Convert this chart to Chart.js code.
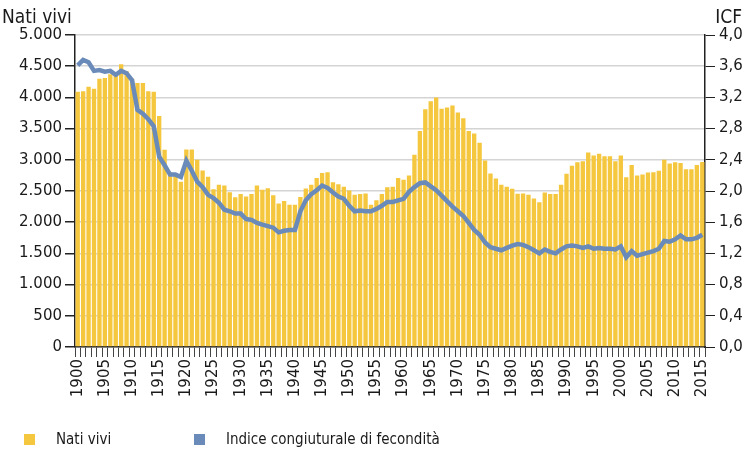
<!DOCTYPE html>
<html>
<head>
<meta charset="utf-8">
<script src="https://cdn.jsdelivr.net/npm/chart.js@4/dist/chart.umd.min.js"></script>
<style>
  body { margin: 0; background: #fff; }
  canvas { display: block; }
</style>
</head>
<body>
<canvas id="natiChart" width="754" height="452"></canvas>
<script>
// anni 1900-2015
var anni = [];
for (var a = 1900; a <= 2015; a++) anni.push(String(a));

// nati vivi
var natiVivi = [
  4090, 4100, 4170, 4140, 4300, 4310, 4370, 4350, 4530, 4420,
  4300, 4230, 4230, 4100, 4090, 3700, 3160, 2800, 2760, 2650,
  3165, 3165, 3000, 2830, 2730, 2530, 2600, 2590, 2480, 2400,
  2450, 2410, 2450, 2590, 2520, 2545, 2430, 2300, 2340, 2280,
  2280, 2405, 2540, 2600, 2710, 2790, 2800, 2640, 2610, 2570,
  2510, 2440, 2450, 2460, 2280, 2350, 2450, 2560, 2570, 2710,
  2680, 2750, 3080, 3460, 3810, 3940, 4000, 3820, 3840, 3870,
  3760, 3665, 3460, 3420, 3275, 2990, 2780, 2700, 2600, 2570,
  2535, 2455, 2460, 2440, 2380, 2320, 2475, 2450, 2450, 2600,
  2775, 2905, 2960, 2975, 3115, 3070, 3095, 3055, 3055, 2975,
  3070, 2720, 2915, 2750, 2765, 2795, 2800, 2825, 3000, 2940,
  2960, 2950, 2850, 2850, 2915, 2965
];

// indice congiunturale di fecondita (ICF)
var icf = [
  3.61, 3.68, 3.65, 3.54, 3.55, 3.53, 3.54, 3.49, 3.54, 3.51,
  3.42, 3.04, 2.99, 2.92, 2.83, 2.44, 2.33, 2.21, 2.21, 2.18,
  2.39, 2.26, 2.12, 2.05, 1.95, 1.91, 1.85, 1.76, 1.74, 1.71,
  1.71, 1.64, 1.63, 1.59, 1.57, 1.55, 1.53, 1.47, 1.49, 1.50,
  1.50, 1.74, 1.88, 1.96, 2.01, 2.07, 2.04, 1.98, 1.93, 1.90,
  1.81, 1.74, 1.75, 1.74, 1.74, 1.77, 1.81, 1.86, 1.86, 1.88,
  1.90, 1.99, 2.05, 2.10, 2.11, 2.06, 2.01, 1.94, 1.87, 1.80,
  1.74, 1.68, 1.59, 1.50, 1.44, 1.34, 1.28, 1.26, 1.24, 1.27,
  1.30, 1.32, 1.31, 1.28, 1.24, 1.20, 1.25, 1.22, 1.20, 1.25,
  1.29, 1.30, 1.29, 1.27, 1.29, 1.26, 1.27, 1.26, 1.26, 1.25,
  1.29, 1.15, 1.23, 1.17, 1.19, 1.21, 1.23, 1.26, 1.36, 1.35,
  1.38, 1.43, 1.38, 1.38, 1.40, 1.44
];

var FONT = "'DejaVu Sans', sans-serif";
var GIALLO = '#F5C73E';
var BLU = '#6A8BB9';
var TESTO = '#1a1a1a';

// titoli degli assi e legenda
var testiPlugin = {
  id: 'testi',
  afterDraw: function(chart) {
    var ctx = chart.ctx;
    ctx.save();
    ctx.fillStyle = TESTO;
    ctx.font = 'condensed 19px ' + FONT;
    ctx.textBaseline = 'alphabetic';
    ctx.textAlign = 'left';
    ctx.fillText('Nati vivi', 2, 23);
    ctx.textAlign = 'right';
    ctx.fillText('ICF', 742, 23);

    // legenda
    ctx.textAlign = 'left';
    ctx.textBaseline = 'middle';
    ctx.font = 'condensed 15px ' + FONT;
    ctx.fillStyle = GIALLO;
    ctx.fillRect(24, 434, 11, 11);
    ctx.fillStyle = TESTO;
    ctx.fillText('Nati vivi', 56, 440);
    ctx.fillStyle = BLU;
    ctx.fillRect(194, 434, 11, 11);
    ctx.fillStyle = TESTO;
    ctx.fillText('Indice congiuturale di fecondità', 226, 440);
    ctx.restore();
  }
};

var fontTick = { family: FONT, size: 15, style: 'condensed' };

new Chart(document.getElementById('natiChart'), {
  data: {
    labels: anni,
    datasets: [
      {
        type: 'line',
        label: 'Indice congiuturale di fecondità',
        data: icf,
        yAxisID: 'y1',
        borderColor: BLU,
        borderWidth: 4.5,
        pointRadius: 0,
        tension: 0,
        order: 0
      },
      {
        type: 'bar',
        label: 'Nati vivi',
        data: natiVivi,
        yAxisID: 'y',
        backgroundColor: GIALLO,
        barPercentage: 0.8,
        categoryPercentage: 1.0,
        order: 1
      }
    ]
  },
  options: {
    responsive: false,
    devicePixelRatio: 1,
    animation: false,
    layout: { padding: { top: 35, left: 0, right: 0, bottom: 45 } },
    plugins: {
      legend: { display: false },
      tooltip: { enabled: false }
    },
    scales: {
      x: {
        offset: true,
        afterFit: function(s) { s.height = 60; },
        grid: { drawOnChartArea: false, tickLength: 10, tickColor: '#444', lineWidth: 1 },
        border: { color: '#222', width: 1.5 },
        ticks: {
          autoSkip: false,
          maxRotation: 90,
          minRotation: 90,
          padding: 2,
          color: TESTO,
          font: fontTick,
          callback: function(v, i) {
            var l = this.getLabelForValue(v);
            return (Number(l) % 5 === 0) ? l : '';
          }
        }
      },
      y: {
        position: 'left',
        min: 0,
        max: 5000,
        afterFit: function(s) { s.width = 75; },
        grid: { color: '#d4d4d4', lineWidth: 1.5, tickColor: '#222', tickLength: 10 },
        border: { color: '#222', width: 1.5 },
        ticks: {
          stepSize: 500,
          padding: 3,
          color: TESTO,
          font: fontTick,
          callback: function(v) { return v.toLocaleString('it-IT'); }
        }
      },
      y1: {
        position: 'right',
        min: 0,
        max: 4,
        afterFit: function(s) { s.width = 49; },
        grid: { drawOnChartArea: false, tickColor: '#222', tickLength: 10 },
        border: { color: '#222', width: 1.5 },
        ticks: {
          stepSize: 0.4,
          padding: 4,
          color: TESTO,
          font: fontTick,
          callback: function(v) { return v.toFixed(1).replace('.', ','); }
        }
      }
    }
  },
  plugins: [testiPlugin]
});
</script>
</body>
</html>
